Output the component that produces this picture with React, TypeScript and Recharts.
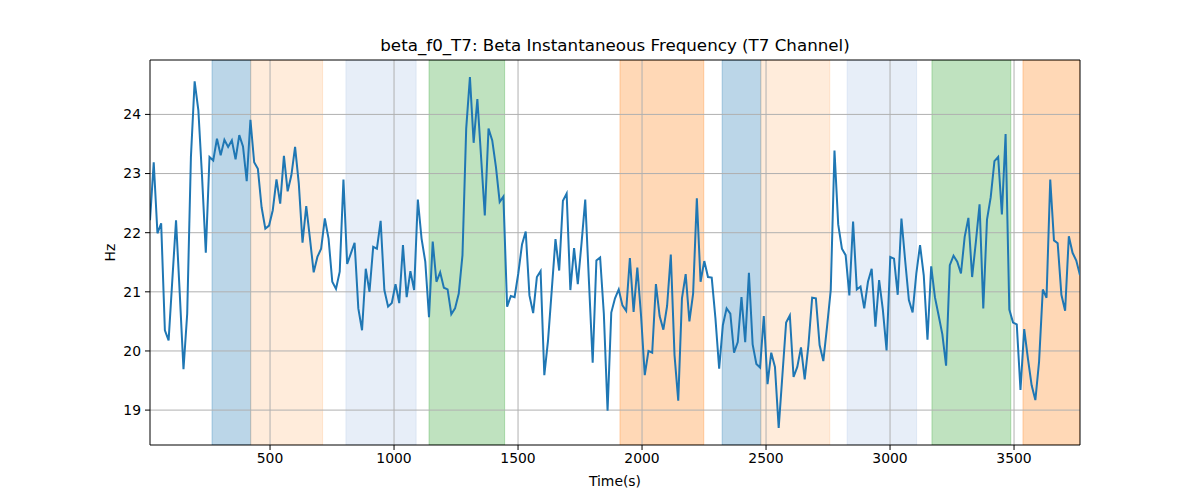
import React from 'react';
import {
  LineChart,
  Line,
  XAxis,
  YAxis,
  ReferenceArea,
  ReferenceLine,
} from 'recharts';

// sampling of the instantaneous frequency trace
const t0 = 16;
const dt = 15;

const freqHz = [
  22.21, 23.19, 21.99, 22.16, 20.35, 20.18, 21.2, 22.21, 20.97, 19.69,
  20.63, 23.28, 24.56, 24.07, 22.94, 21.66, 23.28, 23.22, 23.59, 23.31,
  23.57, 23.45, 23.56, 23.24, 23.65, 23.46, 22.87, 23.91, 23.19, 23.08,
  22.43, 22.07, 22.12, 22.38, 22.9, 22.49, 23.3, 22.7, 22.97, 23.45,
  22.83, 21.83, 22.45, 21.9, 21.33, 21.59, 21.73, 22.24, 21.9, 21.17,
  21.05, 21.34, 22.9, 21.47, 21.65, 21.83, 20.72, 20.35, 21.39, 21.0,
  21.76, 21.73, 22.2, 21.03, 20.75, 20.81, 21.13, 20.81, 21.79, 20.91,
  21.35, 21.03, 22.56, 21.9, 21.51, 20.57, 21.85, 21.17, 21.33, 21.07,
  21.04, 20.62, 20.72, 20.97, 21.62, 23.76, 24.63, 23.52, 24.26, 23.28,
  22.29, 23.76, 23.56, 23.11, 22.52, 22.61, 20.75, 20.93, 20.91, 21.31,
  21.8, 22.02, 20.94, 20.64, 21.25, 21.35, 19.59, 20.18, 21.03, 21.89,
  21.36, 22.54, 22.66, 21.03, 21.74, 21.13, 21.82, 22.56, 21.17, 19.8,
  21.53, 21.58, 20.63, 18.99, 20.65, 20.89, 21.04, 20.77, 20.68, 21.57,
  20.66, 21.41, 20.6, 19.59, 20.0, 19.97, 21.13, 20.59, 20.36, 20.76,
  21.63, 19.93, 19.16, 20.89, 21.3, 20.5, 20.97, 22.58, 21.17, 21.52,
  21.25, 21.24, 20.55, 19.7, 20.44, 20.72, 20.63, 19.97, 20.15, 20.91,
  20.15, 21.32, 20.11, 19.78, 19.72, 20.59, 19.44, 19.97, 19.73, 18.7,
  19.59, 20.48, 20.6, 19.56, 19.73, 20.06, 19.52, 20.1, 20.9, 20.89,
  20.1, 19.83, 20.41, 21.03, 23.39, 22.14, 21.73, 21.62, 20.94, 22.19,
  21.04, 21.09, 20.72, 21.17, 21.39, 20.41, 21.2, 20.7, 20.01, 21.59,
  21.56, 20.95, 22.24, 21.53, 20.86, 20.65, 21.31, 21.79, 21.28, 20.19,
  21.43, 20.91, 20.6, 20.28, 19.75, 21.45, 21.61, 21.51, 21.31, 21.93,
  22.25, 21.25, 21.84, 22.48, 20.72, 22.22, 22.6, 23.21, 23.28, 22.31,
  23.67, 20.7, 20.48, 20.45, 19.34, 20.37, 19.87, 19.42, 19.17, 19.82,
  21.04, 20.9, 22.9, 21.87, 21.82, 20.95, 20.68, 21.94, 21.66, 21.53,
  21.28,
];

// shaded segments (start, end in seconds) and their colours
const bandStart = [266, 422, 806, 1141, 1911, 2323, 2479, 2827, 3169, 3536];
const bandEnd = [422, 712, 1089, 1446, 2249, 2479, 2757, 3107, 3487, 3766];
const bandColor = [
  '#1f77b4', '#ff7f0e', '#aec7e8', '#2ca02c', '#ff7f0e',
  '#1f77b4', '#ff7f0e', '#aec7e8', '#2ca02c', '#ff7f0e',
];
const bandOpacity = [0.3, 0.15, 0.3, 0.3, 0.3, 0.3, 0.15, 0.3, 0.3, 0.3];

const xTicks = [500, 1000, 1500, 2000, 2500, 3000, 3500];
const yTicks = [19, 20, 21, 22, 23, 24];
const xDomain = [16, 3766];
const yDomain = [18.41, 24.92];

const data = freqHz.map((v, i) => ({ t: t0 + i * dt, hz: v }));

const font = "'DejaVu Sans', sans-serif";
const tickStyle = { fill: '#000', fontSize: 13.9, fontFamily: font };

export default function App() {
  return (
    <div style={{ position: 'absolute', left: 0, top: 0, width: 1200, height: 500, background: '#fff' }}>
      <div
        style={{
          position: 'absolute',
          left: 150,
          width: 930,
          top: 35,
          textAlign: 'center',
          fontFamily: font,
          fontSize: 16.7,
          lineHeight: '20px',
          color: '#000',
        }}
      >
        beta_f0_T7: Beta Instantaneous Frequency (T7 Channel)
      </div>
      <LineChart
        width={1200}
        height={500}
        data={data}
        margin={{ top: 60, right: 120, left: 70, bottom: 5 }}
      >
        <XAxis
          dataKey="t"
          type="number"
          domain={xDomain}
          ticks={xTicks}
          allowDataOverflow
          height={50}
          stroke="#000"
          tickSize={5}
          tickMargin={3}
          tick={tickStyle}
          label={{ value: 'Time(s)', position: 'insideBottom', offset: 9, fill: '#000', fontSize: 13.9, fontFamily: font }}
        />
        <YAxis
          type="number"
          domain={yDomain}
          ticks={yTicks}
          allowDataOverflow
          width={80}
          stroke="#000"
          tickSize={5}
          tickMargin={4}
          tick={tickStyle}
          label={{ value: 'Hz', angle: -90, position: 'center', fill: '#000', fontSize: 13.9, fontFamily: font }}
        />
        {bandStart.map((s, i) => (
          <ReferenceArea
            key={'b' + i}
            x1={s}
            x2={bandEnd[i]}
            fill={bandColor[i]}
            fillOpacity={bandOpacity[i]}
            stroke={bandColor[i]}
            strokeOpacity={bandOpacity[i]}
            ifOverflow="hidden"
          />
        ))}
        {xTicks.map((x) => (
          <ReferenceLine key={'gx' + x} x={x} stroke="#b0b0b0" strokeWidth={1} />
        ))}
        {yTicks.map((y) => (
          <ReferenceLine key={'gy' + y} y={y} stroke="#b0b0b0" strokeWidth={1} />
        ))}
        <ReferenceLine y={yDomain[1]} stroke="#000" strokeWidth={1} />
        <ReferenceLine x={xDomain[1]} stroke="#000" strokeWidth={1} />
        <Line
          type="linear"
          dataKey="hz"
          stroke="#1f77b4"
          strokeWidth={2}
          dot={false}
          isAnimationActive={false}
        />
      </LineChart>
    </div>
  );
}
